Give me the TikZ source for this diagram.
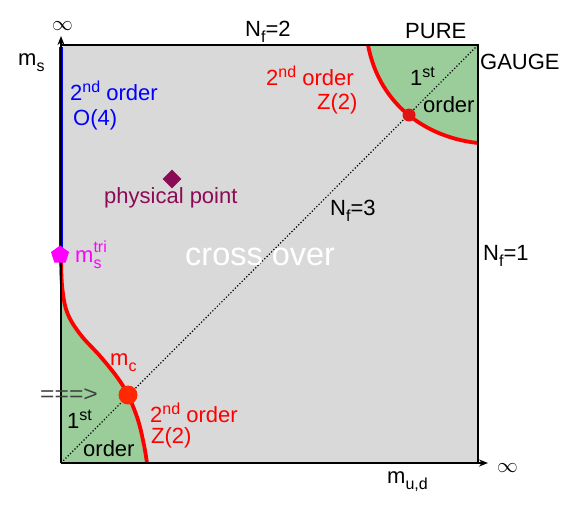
\documentclass[tikz,border=0pt]{standalone}
\usepackage{fontspec}
\setmainfont{Liberation Sans}
\usetikzlibrary{shapes.geometric,arrows.meta}
\definecolor{bggray}{RGB}{217,217,217}
\definecolor{fogreen}{RGB}{155,205,155}
\definecolor{ppcol}{RGB}{140,10,85}
\definecolor{dotred}{RGB}{255,40,0}
\definecolor{dotdark}{RGB}{225,20,20}
\definecolor{mag}{RGB}{255,0,255}
\newcommand\mysub[1]{\raisebox{-6.5pt}{\fontsize{16}{18}\selectfont #1}}
\newcommand\mysup[1]{\raisebox{8pt}{\fontsize{16}{18}\selectfont #1}}
\newcommand\mysupsub[2]{\rlap{\raisebox{10pt}{\fontsize{16}{18}\selectfont #1}}\raisebox{-6pt}{\fontsize{16}{18}\selectfont #2}}
\begin{document}
\begin{tikzpicture}[x=1pt,y=-1pt,
  lbl/.style={inner sep=0pt, anchor=base west, font=\fontsize{22}{26}\selectfont},
  lblr/.style={lbl, text=red},
  redline/.style={red, line width=3.8pt},
  axis/.style={line width=1.6pt, -{Stealth[length=9pt,width=7pt]}}]
\useasboundingbox (0,0) rectangle (568,504);
\coordinate (O) at (61,463);
\coordinate (TL) at (61,45);
\coordinate (TR) at (478,45);
\coordinate (BR) at (478,463);
\coordinate (Ytop) at (61,36);
\coordinate (Xend) at (488,463);
\coordinate (Tri) at (61,253);
\coordinate (Cb) at (128,395);
\coordinate (Ct) at (409,115);
% background
\fill[bggray] (TL) rectangle (BR);
% green regions
\fill[fogreen] plot[smooth, tension=0.6] coordinates {(61,253) (62,285) (67,312) (80,334) (100,356) (117,377) (128,395) (138,420) (144,445) (147,463)} -- (O) -- cycle;
\fill[fogreen] (368,45) .. controls (380,108) and (430,138) .. (478,143) -- (TR) -- cycle;
% diagonal
\draw[dotted, line width=1.2pt] (O) -- (TR);
% red transition lines
\draw[redline] plot[smooth, tension=0.6] coordinates {(61,253) (62,285) (67,312) (80,334) (100,356) (117,377) (128,395) (138,420) (144,445) (147,463)};
\draw[redline] (368,45) .. controls (380,108) and (430,138) .. (478,143);
% blue O(4) line
\draw[blue, line width=4.5pt] (61,47) -- (Tri);
% frame and axes
\draw[line width=1.6pt] (TL) -- (TR) -- (BR);
\draw[axis] (O) -- (Ytop);
\draw[axis] (O) -- (Xend);
% points
\fill[dotred] (Cb) circle (9.5);
\fill[dotdark] (Ct) circle (6.5);
\node[diamond, fill=ppcol, minimum size=19pt, inner sep=0pt] (pp) at (172,179) {};
\node[regular polygon, regular polygon sides=5, fill=mag, minimum size=19pt, inner sep=0pt] (tri) at (60,255) {};
% labels
\node[lbl] (inf1) at (52,30) {$\infty$};
\node[lbl] (ms) at (18,65) {m\mysub{s}};
\node[lbl, text=blue] (o4a) at (70,100) {2\mysup{nd} order};
\node[lbl, text=blue] (o4b) at (73,125) {O(4)};
\node[lbl] (nf2) at (245,36) {N\mysub{f}=2};
\node[lbl] (pure) at (405,38) {PURE};
\node[lbl] (gauge) at (480,69) {GAUGE};
\node[lblr] (z2a) at (266,85) {2\mysup{nd} order};
\node[lblr] (z2b) at (317,109) {Z(2)};
\node[lbl] (fo1) at (410,85) {1\mysup{st}};
\node[lbl] (fo2) at (423,112) {order};
\node[lbl, text=ppcol] (ppl) at (104,203) {physical point};
\node[lbl] (nf3) at (330,215) {N\mysub{f}=3};
\node[lbl, text=white, font=\fontsize{32.5}{36}\selectfont] (co) at (185,265) {cross over};
\node[lbl] (nf1) at (483,260) {N\mysub{f}=1};
\node[lbl, text=mag] (mstri) at (75,262) {m\mysupsub{tri}{s}};
\node[lblr] (mc) at (110,365) {m\mysub{c}};
\node[lbl, text=black!75, xscale=1.12] (arr) at (40,401) {===>};
\node[lbl] (fo3) at (67,428) {1\mysup{st}};
\node[lbl] (fo4) at (83,456) {order};
\node[lblr] (z2c) at (150,422) {2\mysup{nd} order};
\node[lblr] (z2d) at (151,443) {Z(2)};
\node[lbl] (mud) at (387,483) {m\mysub{u,d}};
\node[lbl] (inf2) at (497,472) {$\infty$};
\end{tikzpicture}
\end{document}
